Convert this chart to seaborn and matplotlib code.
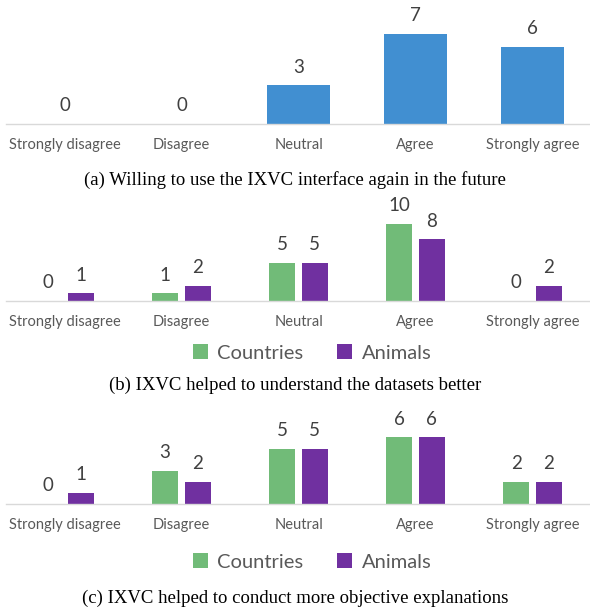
import pandas as pd
import seaborn as sns
import matplotlib.pyplot as plt

# survey answers (counts per answer)
categories = ["Strongly disagree", "Disagree", "Neutral", "Agree", "Strongly agree"]
datasets = ["Countries", "Animals"]

willing_counts = [0, 0, 3, 7, 6]
understand_countries = [0, 1, 5, 10, 0]
understand_animals = [1, 2, 5, 8, 2]
objective_countries = [0, 3, 5, 6, 2]
objective_animals = [1, 2, 5, 6, 2]

captions = [
    "(a) Willing to use the IXVC interface again in the future",
    "(b) IXVC helped to understand the datasets better",
    "(c) IXVC helped to conduct more objective explanations",
]

BLUE = "#418FD1"
GREEN = "#71BB78"
PURPLE = "#7030A0"
TXT = "#404040"

sns.set_theme(style="white")
plt.rcParams["font.family"] = ["Lato", "DejaVu Sans"]

W, H = 590, 611
fig = plt.figure(figsize=(W / 100, H / 100), dpi=100)


def make_ax(top_px, base_px, px_per_unit):
    # axes placed by pixel rows: top edge and baseline
    left, right = 6, 591
    ax = fig.add_axes([left / W, 1 - base_px / H, (right - left) / W, (base_px - top_px) / H])
    ax.set_xlim(-0.5, 4.5)
    ax.set_ylim(0, (base_px - top_px) / px_per_unit)
    return ax


def style_ax(ax):
    for s in ["top", "left", "right"]:
        ax.spines[s].set_visible(False)
    ax.spines["bottom"].set_color("#D9D9D9")
    ax.spines["bottom"].set_linewidth(1.0)
    ax.set_yticks([])
    ax.set_xlabel("")
    ax.set_ylabel("")
    ax.tick_params(axis="x", length=0, pad=10, labelsize=10.5, labelcolor="#595959")
    ax.set_xlim(-0.5, 4.5)
    for c in ax.containers:
        ax.bar_label(c, padding=7, fontsize=13.5, color=TXT)


# (a)
df_a = pd.DataFrame({"answer": categories, "count": willing_counts})
ax1 = make_ax(0, 124, 12.9)
sns.barplot(data=df_a, x="answer", y="count", color=BLUE, width=0.53,
            saturation=1, ax=ax1, linewidth=0)
style_ax(ax1)


def grouped(countries, animals):
    return pd.DataFrame({
        "answer": categories * 2,
        "count": countries + animals,
        "dataset": [datasets[0]] * len(categories) + [datasets[1]] * len(categories),
    })


def grouped_panel(ax, df, legend_y):
    sns.barplot(data=df, x="answer", y="count", hue="dataset", hue_order=datasets,
                palette=[GREEN, PURPLE], width=0.56, gap=0.2, saturation=1,
                linewidth=0, ax=ax)
    style_ax(ax)
    h, l = ax.get_legend_handles_labels()
    ax.legend(h, l, loc="center", bbox_to_anchor=(312 / W, 1 - legend_y / H),
              bbox_transform=fig.transFigure, ncol=2, frameon=False,
              fontsize=14.5, handlelength=0.75, handleheight=0.75, handletextpad=0.45,
              columnspacing=1.7, labelcolor="#595959")


# (b)
ax2 = make_ax(200, 301, 7.7)
grouped_panel(ax2, grouped(understand_countries, understand_animals), 353)

# (c)
ax3 = make_ax(410, 504, 11.1)
grouped_panel(ax3, grouped(objective_countries, objective_animals), 562)

for cap, y in zip(captions, [180, 385, 598]):
    fig.text(0.5, 1 - y / H, cap, ha="center", va="center", fontsize=13.5,
             family=["Liberation Serif", "DejaVu Serif"], color="black")

fig.savefig("out.png", dpi=100)
